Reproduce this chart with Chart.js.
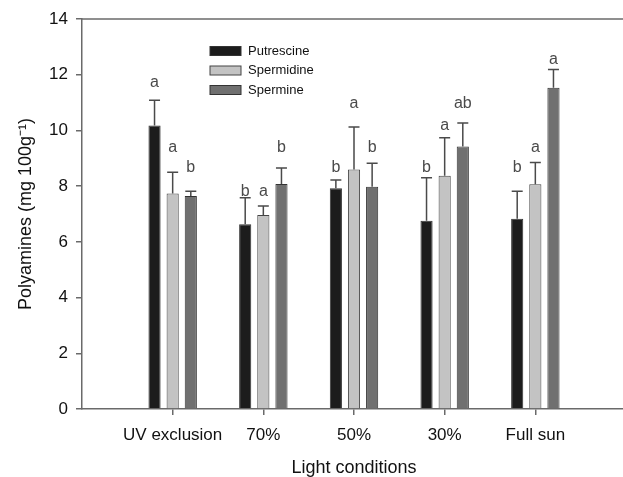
<!DOCTYPE html>
<html>
<head>
<meta charset="utf-8">
<script src="https://cdn.jsdelivr.net/npm/chart.js@4.4.0/dist/chart.umd.min.js"></script>
<style>
  html, body { margin: 0; padding: 0; background: #fff; overflow: hidden; }
</style>
</head>
<body>
<canvas id="polyChart" width="626" height="477"></canvas>
<script>
const conditions = ["UV exclusion", "70%", "50%", "30%", "Full sun"];
const putrescine = [10.18, 6.63, 7.92, 6.76, 6.83];
const spermidine = [7.74, 6.96, 8.6, 8.37, 8.07];
const spermine = [7.65, 8.08, 7.98, 9.42, 11.53];

// top of the error bars
const putrescineErr = [11.08, 7.58, 8.22, 8.3, 7.82];
const spermidineErr = [8.5, 7.29, 10.12, 9.74, 8.85];
const spermineErr = [7.82, 8.65, 8.82, 10.27, 12.19];

// significance letters and the value they sit at
const putrescineLetters = ["a", "b", "b", "b", "b"];
const spermidineLetters = ["a", "a", "a", "a", "a"];
const spermineLetters = ["b", "b", "b", "ab", "a"];
const putrescineLetterAt = [11.7, 7.79, 8.65, 8.65, 8.65];
const spermidineLetterAt = [9.4, 7.79, 10.98, 10.19, 9.4];
const spermineLetterAt = [8.65, 9.4, 9.4, 10.98, 12.53];

const yMin = 0, yMax = 14, yStep = 2;

// empty slot on each side, like the original axis
const pad = (arr) => [null, ...arr, null];
const labels = ["", ...conditions, ""];

const axisColor = "#6a6a6a";
const fontFamily = "'Liberation Sans', Arial, sans-serif";

const errorBars = {
  id: "errorBars",
  afterDatasetsDraw(chart) {
    const ctx = chart.ctx;
    const y = chart.scales.y;
    chart.data.datasets.forEach((ds, i) => {
      const meta = chart.getDatasetMeta(i);
      meta.data.forEach((bar, j) => {
        if (ds.data[j] == null) return;
        const top = y.getPixelForValue(ds.err[j]);
        ctx.save();
        ctx.strokeStyle = "#4a4a4a";
        ctx.lineWidth = 1.5;
        ctx.beginPath();
        ctx.moveTo(bar.x, bar.y);
        ctx.lineTo(bar.x, top);
        ctx.moveTo(bar.x - 5.5, top);
        ctx.lineTo(bar.x + 5.5, top);
        ctx.stroke();
        ctx.fillStyle = "#4a4a4a";
        ctx.font = "16px " + fontFamily;
        ctx.textAlign = "center";
        ctx.textBaseline = "middle";
        ctx.fillText(ds.letters[j], bar.x, y.getPixelForValue(ds.letterAt[j]));
        ctx.restore();
      });
    });
  },
};

const topLine = {
  id: "topLine",
  afterDraw(chart) {
    const { ctx, chartArea } = chart;
    ctx.save();
    ctx.strokeStyle = axisColor;
    ctx.lineWidth = 1.5;
    ctx.beginPath();
    ctx.moveTo(chartArea.left, chartArea.top);
    ctx.lineTo(chartArea.right, chartArea.top);
    ctx.stroke();
    ctx.restore();
  },
};

const boxLegend = {
  id: "boxLegend",
  afterDraw(chart) {
    const ctx = chart.ctx;
    ctx.save();
    ctx.font = "13px " + fontFamily;
    ctx.textBaseline = "middle";
    chart.data.datasets.forEach((ds, i) => {
      const cy = 51 + i * 19.5;
      ctx.fillStyle = ds.backgroundColor;
      ctx.fillRect(210, cy - 4.5, 31, 9);
      ctx.strokeStyle = ds.borderColor;
      ctx.lineWidth = 1;
      ctx.strokeRect(210, cy - 4.5, 31, 9);
      ctx.fillStyle = "#111";
      ctx.fillText(ds.label, 248, cy);
    });
    ctx.restore();
  },
};

const ctx = document.getElementById("polyChart").getContext("2d");
new Chart(ctx, {
  type: "bar",
  data: {
    labels: labels,
    datasets: [
      {
        label: "Putrescine",
        data: pad(putrescine),
        err: pad(putrescineErr),
        letters: pad(putrescineLetters),
        letterAt: pad(putrescineLetterAt),
        backgroundColor: "#1c1c1c",
        borderColor: "#333",
        borderWidth: 1,
      },
      {
        label: "Spermidine",
        data: pad(spermidine),
        err: pad(spermidineErr),
        letters: pad(spermidineLetters),
        letterAt: pad(spermidineLetterAt),
        backgroundColor: "#c3c3c3",
        borderColor: "#444",
        borderWidth: 1,
      },
      {
        label: "Spermine",
        data: pad(spermine),
        err: pad(spermineErr),
        letters: pad(spermineLetters),
        letterAt: pad(spermineLetterAt),
        backgroundColor: "#707070",
        borderColor: "#333",
        borderWidth: 1,
      },
    ],
  },
  options: {
    responsive: false,
    animation: false,
    layout: { padding: { top: 19, right: 0, bottom: 0, left: 0 } },
    categoryPercentage: 0.6,
    barPercentage: 0.67,
    plugins: {
      legend: { display: false },
      tooltip: { enabled: false },
    },
    scales: {
      x: {
        offset: false,
        grid: {
          offset: false,
          drawOnChartArea: false,
          tickLength: 6,
          lineWidth: 1.5,
          color: (c) => (c.index === 0 || c.index === labels.length - 1 ? "transparent" : axisColor),
        },
        border: { color: axisColor, width: 1.5 },
        ticks: {
          color: "#111",
          padding: 10,
          maxRotation: 0,
          autoSkip: false,
          font: { family: fontFamily, size: 17 },
        },
        title: {
          display: true,
          text: "Light conditions",
          color: "#111",
          padding: { top: 0, bottom: -2 },
          font: { family: fontFamily, size: 18 },
        },
        afterFit(scale) {
          scale.height = 68;
          scale.paddingLeft = 0;
          scale.paddingRight = 0;
        },
      },
      y: {
        min: yMin,
        max: yMax,
        ticks: {
          stepSize: yStep,
          color: "#111",
          padding: 8,
          font: { family: fontFamily, size: 17 },
        },
        grid: {
          drawOnChartArea: false,
          tickLength: 6,
          lineWidth: 1.5,
          color: axisColor,
        },
        border: { color: axisColor, width: 1.5 },
        title: {
          display: true,
          text: "Polyamines (mg 100g⁻¹)",
          color: "#111",
          padding: { top: 15, bottom: 0 },
          font: { family: fontFamily, size: 18 },
        },
        afterFit(scale) {
          scale.width = 82;
        },
      },
    },
  },
  plugins: [errorBars, topLine, boxLegend],
});
</script>
</body>
</html>
